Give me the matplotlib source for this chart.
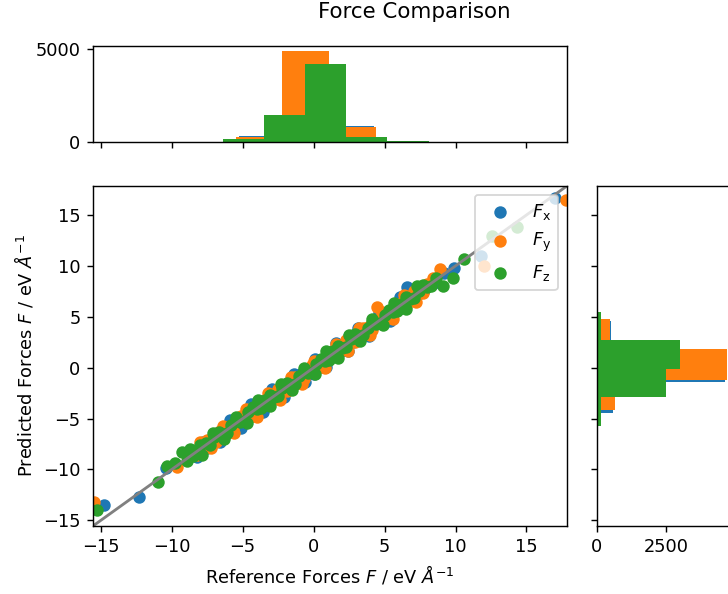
import numpy as np
import matplotlib
matplotlib.use("Agg")
import matplotlib.pyplot as plt

# scatter points (reference, predicted)
fx_ref = [-14.8, -12.3, -10.4, -8.2, -7.8, -7.0, -6.3, -5.6, -5.0, -4.4, -3.8, -3.2, -2.6, -2.0,
          -1.5, -1.0, -0.5, 0.0, 0.5, 1.0, 1.6, 2.1, 2.5, 3.0, 3.6, 4.2, 4.8, 5.4, 6.0, 6.6,
          7.2, 7.8, 8.5, 9.2, 9.9, 11.8, 17.0,
          -7.5, -6.7, -6.0, -5.3, -4.7, -4.1, -3.5, -2.9, -2.3, -1.8, -1.2, -0.8, -0.2, 0.3,
          0.8, 1.3, 1.9, 2.3, 2.8, 3.3, 3.9, 4.5, 5.1, 5.7, 6.3, 6.9, 7.5,
          -6.6, -5.9, -5.1, -4.4, -3.6, -2.9, -2.1, -1.4, -0.6, 0.1, 0.9, 1.6, 2.4, 3.1,
          3.9, 4.6, 5.4, 6.1]
fx_pred = [-13.5, -12.7, -9.9, -8.8, -7.3, -6.8, -6.4, -5.3, -4.8, -4.6, -3.6, -3.5, -2.4, -2.1,
           -1.3, -1.2, -0.3, -0.6, 0.7, 0.8, 1.8, 1.9, 3.1, 2.8, 3.5, 4.3, 4.6, 5.6, 5.8, 7.9,
           7.0, 7.6, 8.3, 9.3, 9.8, 11.0, 16.7,
           -7.9, -6.3, -6.4, -5.0, -5.1, -3.8, -3.9, -2.6, -2.7, -1.5, -1.5, -0.5, -0.5, 0.6,
           0.5, 1.6, 1.6, 2.6, 2.5, 3.6, 3.6, 4.8, 4.8, 6.0, 6.0, 7.2, 7.3,
           -7.3, -5.1, -5.9, -3.6, -4.4, -2.1, -2.9, -0.6, -1.4, 0.9, 0.1, 2.4, 1.6, 3.9,
           3.1, 5.4, 4.6, 6.9]

fy_ref = [-15.5, -9.6, -8.6, -7.9, -7.2, -6.6, -6.0, -5.4, -4.6, -4.0, -3.4, -2.8, -2.2, -1.6,
          -1.0, -0.4, 0.2, 0.8, 1.4, 2.0, 2.6, 3.2, 3.8, 4.5, 5.0, 5.6, 6.2, 6.8, 7.4, 8.0,
          8.9, 12.0, 17.8,
          -9.0, -8.2, -7.5, -6.9, -6.3, -5.7, -5.1, -4.3, -3.7, -3.1, -2.5, -1.9, -1.3, -0.7,
          -0.1, 0.5, 1.1, 1.7, 2.3, 2.9, 3.5, 4.1, 4.8, 5.3, 5.9, 6.5, 7.1, 7.7, 8.4,
          -8.0, -7.2, -6.4, -5.6, -4.8, -4.0, -3.2, -2.4, -1.6, -0.8, 0.0, 0.8, 1.6, 2.4,
          3.2, 4.0, 4.8, 5.6, 6.4, 7.2]
fy_pred = [-13.2, -9.8, -8.3, -7.6, -7.3, -6.2, -6.3, -5.0, -4.9, -3.7, -3.6, -2.6, -2.4, -1.4,
           -1.2, -0.2, 0.4, 0.6, 1.6, 1.8, 2.8, 3.0, 4.0, 6.0, 4.8, 5.8, 6.0, 7.0, 7.3, 8.2,
           9.7, 10.0, 16.5,
           -8.5, -8.6, -7.1, -7.3, -5.9, -6.1, -4.7, -4.7, -3.3, -3.5, -2.1, -2.3, -0.9, -1.1,
           0.3, 0.1, 1.5, 1.3, 2.7, 2.5, 3.9, 3.7, 5.2, 4.9, 6.3, 6.1, 7.5, 7.3, 8.8,
           -7.3, -7.9, -5.7, -6.4, -4.1, -4.8, -2.5, -3.2, -0.9, -1.6, 0.7, 0.0, 2.3, 1.6,
           3.9, 3.2, 5.5, 4.8, 7.1, 6.5]

fz_ref = [-15.3, -11.0, -10.3, -9.3, -8.5, -7.6, -7.0, -6.4, -5.8, -5.2, -4.6, -4.0, -3.4, -2.8,
          -2.2, -1.6, -1.0, -0.4, 0.2, 0.8, 1.4, 2.0, 2.6, 3.2, 3.8, 4.4, 5.0, 5.6, 6.2, 6.8,
          7.4, 8.0, 8.6, 9.1, 9.8, 10.6, 12.6, 14.3,
          -9.8, -8.9, -8.0, -7.3, -6.7, -6.1, -5.5, -4.9, -4.3, -3.7, -3.1, -2.5, -1.9, -1.3,
          -0.7, -0.1, 0.5, 1.1, 1.7, 2.3, 2.9, 3.5, 4.1, 4.7, 5.3, 5.9, 6.5, 7.1, 7.7, 8.3,
          -8.7, -7.9, -7.1, -6.3, -5.5, -4.7, -3.9, -3.1, -2.3, -1.5, -0.7, 0.1, 0.9, 1.7,
          2.5, 3.3, 4.1, 4.9, 5.7, 6.5, 7.3]
fz_pred = [-14.0, -11.2, -9.7, -8.3, -8.7, -7.4, -6.8, -6.5, -5.6, -5.3, -4.4, -4.1, -3.2, -2.9,
           -2.0, -1.7, -0.8, -0.5, 0.4, 0.7, 1.6, 1.9, 2.8, 3.1, 3.9, 4.3, 5.2, 5.5, 6.3, 6.7,
           7.5, 7.9, 8.8, 8.0, 8.8, 10.7, 12.9, 13.8,
           -9.4, -9.2, -7.6, -7.6, -6.3, -6.4, -5.1, -5.2, -3.9, -4.0, -2.7, -2.8, -1.5, -1.6,
           -0.3, -0.4, 0.9, 0.8, 2.1, 2.0, 3.3, 3.2, 4.5, 4.4, 5.7, 5.6, 6.9, 6.8, 8.1, 8.0,
           -8.0, -8.6, -6.4, -7.0, -4.8, -5.4, -3.2, -3.8, -1.6, -2.2, 0.0, -0.6, 1.6, 1.0,
           3.2, 2.6, 4.8, 4.2, 6.4, 5.8, 8.0]

# histogram of reference forces (bin edges, counts)
ref_edges_x = [-14.8, -11.62, -8.44, -5.26, -2.08, 1.1, 4.28, 7.46, 10.64, 13.82, 17.0]
ref_counts_x = [2, 3, 15, 335, 4850, 870, 55, 8, 2, 1]
ref_edges_y = [-15.4, -12.1, -8.8, -5.5, -2.2, 1.1, 4.4, 7.7, 11.0, 14.3, 17.6]
ref_counts_y = [2, 5, 20, 265, 4910, 800, 70, 10, 2, 1]
ref_edges_z = [-15.1, -12.2, -9.3, -6.4, -3.5, -0.6, 2.3, 5.2, 8.1, 11.0, 13.9]
ref_counts_z = [2, 4, 20, 160, 1450, 4200, 265, 35, 8, 3]

# histogram of predicted forces
pred_edges_x = [-13.5, -10.48, -7.46, -4.44, -1.42, 1.6, 4.62, 7.64, 10.66, 13.68, 16.7]
pred_counts_x = [2, 8, 30, 580, 4650, 500, 40, 8, 3, 1]
pred_edges_y = [-13.1, -10.12, -7.14, -4.16, -1.18, 1.8, 4.78, 7.76, 10.74, 13.72, 16.7]
pred_counts_y = [3, 10, 40, 640, 4700, 460, 40, 8, 3, 1]
pred_edges_z = [-14.1, -11.3, -8.5, -5.7, -2.9, -0.1, 2.7, 5.5, 8.3, 11.1, 13.9]
pred_counts_z = [2, 5, 20, 150, 2500, 3010, 150, 30, 6, 3]

labels = [r"$F_\mathrm{x}$", r"$F_\mathrm{y}$", r"$F_\mathrm{z}$"]
lims = (-15.55, 17.85)

DPI = 128
fig = plt.figure(figsize=(728 / DPI, 594 / DPI), dpi=DPI)
ax = fig.add_axes([0.1277, 0.1145, 0.651, 0.5724])
ax_top = fig.add_axes([0.1277, 0.761, 0.651, 0.1616], sharex=ax)
ax_right = fig.add_axes([0.820, 0.1145, 0.187, 0.5724], sharey=ax)

ax.scatter(fx_ref, fx_pred, label=labels[0])
ax.scatter(fy_ref, fy_pred, label=labels[1])
ax.scatter(fz_ref, fz_pred, label=labels[2])
ax.plot(lims, lims, color="gray", lw=1.6)
ax.set_xlim(lims)
ax.set_ylim(lims)
ax.set_xlabel(r"Reference Forces $F$ / eV $\AA^{-1}$")
ax.set_ylabel(r"Predicted Forces $F$ / eV $\AA^{-1}$")
ax.legend(loc="upper right")

for edges, counts, c in [(ref_edges_x, ref_counts_x, "C0"),
                         (ref_edges_y, ref_counts_y, "C1"),
                         (ref_edges_z, ref_counts_z, "C2")]:
    ax_top.hist(edges[:-1], bins=edges, weights=counts, color=c)
for edges, counts, c in [(pred_edges_x, pred_counts_x, "C0"),
                         (pred_edges_y, pred_counts_y, "C1"),
                         (pred_edges_z, pred_counts_z, "C2")]:
    ax_right.hist(edges[:-1], bins=edges, weights=counts, color=c,
                  orientation="horizontal")

ax_top.set_yticks([0, 5000])
ax_right.set_xticks([0, 2500])
ax_top.tick_params(axis="x", labelbottom=False)
ax_right.tick_params(axis="y", labelleft=False)

fig.suptitle("Force Comparison", x=0.569, y=0.997, va="top")

fig.savefig("out.png", dpi=DPI)
